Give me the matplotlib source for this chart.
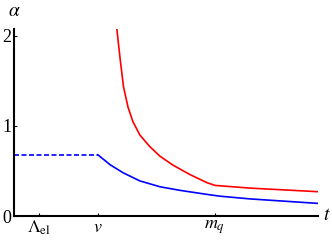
import matplotlib
matplotlib.use("Agg")
import matplotlib.pyplot as plt

plt.rcParams['font.family'] = ['Liberation Serif', 'DejaVu Serif']
plt.rcParams['mathtext.fontset'] = 'stix'

# scale positions (t axis)
t_lambda = 0.82
t_v = 2.76
t_mq = 6.61
t_max = 10.0

# dashed plateau of alpha below v
dash_t = [0.0, 2.76]
dash_a = [0.68, 0.68]

# blue curve
blue_t = [2.76, 3.16, 3.59, 4.14, 4.80, 5.46, 6.35, 6.78, 7.76, 10.0]
blue_a = [0.68, 0.57, 0.48, 0.39, 0.325, 0.285, 0.24, 0.22, 0.19, 0.14]

# red curve
red_t = [3.38, 3.44, 3.49, 3.60, 3.75, 3.91, 4.14, 4.47, 4.80, 5.23, 5.79, 6.35, 6.61, 7.76, 10.0]
red_a = [2.09, 1.90, 1.75, 1.44, 1.21, 1.05, 0.90, 0.77, 0.665, 0.565, 0.46, 0.37, 0.34, 0.31, 0.27]

xtick_pos = [t_lambda, t_v, t_mq]
xtick_lab = [r'$\Lambda_{\rm el}$', r'$v$', r'$m_q$']
ytick_pos = [0, 1, 2]
ytick_lab = ['0', '1', '2']

fig = plt.figure(figsize=(3.32, 2.45), dpi=100)
ax = fig.add_axes([14 / 332, 29 / 245, 304 / 332, 187 / 245])

ax.plot(dash_t, dash_a, color='#0000ff', lw=1.2, dashes=(3, 1.5))
ax.plot(blue_t, blue_a, color='#0000ff', lw=1.2, solid_joinstyle='round')
ax.plot(red_t, red_a, color='#ff0000', lw=1.2, solid_joinstyle='round')

ax.set_xlim(0, t_max)
ax.set_ylim(0, 187 / 90)
for s in ['top', 'right']:
    ax.spines[s].set_visible(False)
for s in ['left', 'bottom']:
    ax.spines[s].set_linewidth(1.5)

ax.set_xticks(xtick_pos)
ax.set_xticklabels(xtick_lab, fontsize=13)
ax.set_yticks(ytick_pos)
ax.set_yticklabels(ytick_lab, fontsize=13)
ax.tick_params(direction='in', length=2, width=0.8, pad=2)

fig.text(14 / 332, 1 - 12 / 245, r'$\alpha$', fontsize=14, ha='center', va='center')
fig.text(327 / 332, 1 - 215 / 245, r'$t$', fontsize=14, ha='center', va='center')

fig.savefig('out.png', dpi=100)
